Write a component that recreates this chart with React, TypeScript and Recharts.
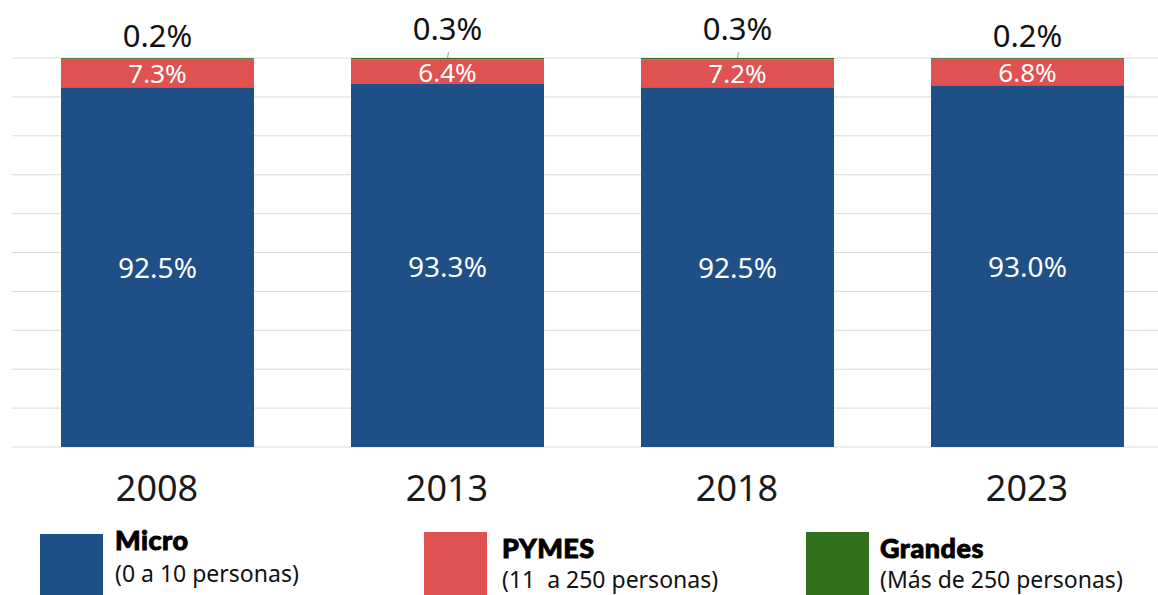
import { BarChart, Bar, XAxis, YAxis, CartesianGrid, LabelList } from 'recharts'

const years = ['2008', '2013', '2018', '2023']
const micro = [92.5, 93.3, 92.5, 93.0]
const pymes = [7.3, 6.4, 7.2, 6.8]
const grandes = [0.2, 0.3, 0.3, 0.2]
const gridTicks = [0, 10, 20, 30, 40, 50, 60, 70, 80, 90, 100]

const BLUE = '#1E4F87'
const RED = '#E05252'
const GREEN = '#306F1B'
const FONT = '"Noto Sans", sans-serif'

const data = years.map((year, i) => ({
  year,
  micro: micro[i],
  pymes: pymes[i],
  grandes: grandes[i],
}))

const pct = (v: number) => `${Number(v).toFixed(1)}%`

function InsideLabel(props: any) {
  const { x, y, width, height, value, size } = props
  return (
    <text
      x={x + width / 2}
      y={y + height / 2}
      textAnchor="middle"
      dominantBaseline="central"
      fill="#fff"
      fontSize={size}
      fontFamily={FONT}
    >
      {pct(value)}
    </text>
  )
}

function TopLabel(props: any) {
  const { x, y, width, value } = props
  const cx = x + width / 2
  // the larger labels sit higher, with a short leader line
  const raised = value >= 0.3
  return (
    <g>
      {raised && <line x1={cx + 1} y1={y - 6} x2={cx} y2={y} stroke="#999" strokeWidth={1} />}
      <text
        x={cx}
        y={raised ? y - 30 : y - 23}
        textAnchor="middle"
        dominantBaseline="central"
        fill="#111"
        fontSize={31}
        fontFamily={FONT}
      >
        {pct(value)}
      </text>
    </g>
  )
}

function YearTick(props: any) {
  const { x, y, payload } = props
  return (
    <text x={x} y={y + 32} textAnchor="middle" dominantBaseline="central" fill="#1a1a1a" fontSize={36} fontFamily={FONT}>
      {payload.value}
    </text>
  )
}

const legend = [
  { color: BLUE, title: 'Micro', sub: '(0 a 10 personas)', box: 40, text: 115, top: 0 },
  { color: RED, title: 'PYMES', sub: '(11  a 250 personas)', box: 424, text: 502, top: 8 },
  { color: GREEN, title: 'Grandes', sub: '(Más de 250 personas)', box: 806, text: 880, top: 8 },
]

export default function App() {
  return (
    <div style={{ position: 'absolute', left: 0, top: 0, width: 1158, height: 595, overflow: 'hidden', background: '#fff' }}>
      <BarChart width={1172} height={595} data={data} margin={{ top: 58, right: 0, left: 12, bottom: 88 }} barSize={193}>
        <CartesianGrid vertical={false} stroke="#dcdcdc" />
        <YAxis hide domain={[0, 100]} ticks={gridTicks} />
        <XAxis dataKey="year" axisLine={false} tickLine={false} tick={<YearTick />} height={60} />
        <Bar dataKey="micro" stackId="a" fill={BLUE} isAnimationActive={false}>
          <LabelList dataKey="micro" content={<InsideLabel size={28} />} />
        </Bar>
        <Bar dataKey="pymes" stackId="a" fill={RED} isAnimationActive={false}>
          <LabelList dataKey="pymes" content={<InsideLabel size={26} />} />
        </Bar>
        <Bar dataKey="grandes" stackId="a" fill={GREEN} isAnimationActive={false}>
          <LabelList dataKey="grandes" content={<TopLabel />} />
        </Bar>
      </BarChart>
      {legend.map((l) => (
        <div key={l.title}>
          <div style={{ position: 'absolute', left: l.box, top: 534 - l.top / 4, width: 63, height: 70, background: l.color }} />
          <div
            style={{
              position: 'absolute',
              left: l.text,
              top: 524 + l.top,
              fontFamily: 'Lato, sans-serif',
              fontWeight: 900,
              fontSize: 27,
              lineHeight: '32px',
              color: '#000',
              WebkitTextStroke: '0.9px #000',
              letterSpacing: 0.5,
            }}
          >
            {l.title}
          </div>
          <div
            style={{
              position: 'absolute',
              left: l.text,
              top: 561 + l.top * 0.75,
              fontFamily: FONT,
              fontSize: 23,
              lineHeight: '24px',
              color: '#111',
              whiteSpace: 'pre',
            }}
          >
            {l.sub}
          </div>
        </div>
      ))}
    </div>
  )
}
